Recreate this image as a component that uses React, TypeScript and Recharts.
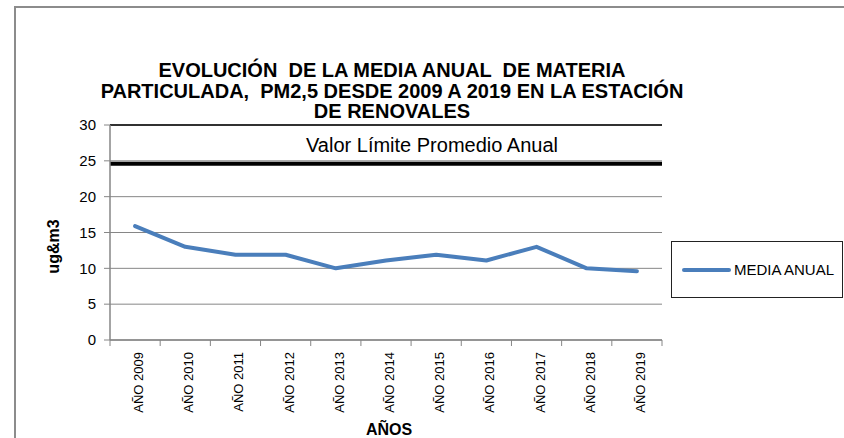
import React from 'react';
import { LineChart, Line, XAxis, YAxis, CartesianGrid, ReferenceLine, Legend } from 'recharts';

const years = ['AÑO 2009', 'AÑO 2010', 'AÑO 2011', 'AÑO 2012', 'AÑO 2013', 'AÑO 2014', 'AÑO 2015', 'AÑO 2016', 'AÑO 2017', 'AÑO 2018', 'AÑO 2019'];
const mediaAnual = [15.9, 13, 11.9, 11.9, 10, 11.1, 11.9, 11.1, 13, 10, 9.6];
const yTicks = [0, 5, 10, 15, 20, 25, 30];
const limitValue = 24.6;
const limitLabel = 'Valor Límite Promedio Anual';
const seriesName = 'MEDIA ANUAL';
const titleLines = [
  'EVOLUCIÓN  DE LA MEDIA ANUAL  DE MATERIA',
  'PARTICULADA,  PM2,5 DESDE 2009 A 2019 EN LA ESTACIÓN',
  'DE RENOVALES',
];
const xTitle = 'AÑOS';
const yTitle = 'ug&m3';

const data = years.map((y, i) => ({ year: y, media: mediaAnual[i] }));

const FONT = '"Liberation Sans", Arial, sans-serif';
const LINE_COLOR = '#4A7EBB';
const AXIS_COLOR = '#868686';

const XTick = (props: any) => {
  const { x, y, payload, index } = props;
  const half = payload && payload.offset ? payload.offset : 25;
  const isLast = payload.value === years[years.length - 1] || index === years.length - 1;
  return (
    <g>
      <line x1={x - half} x2={x - half} y1={y - 12} y2={y - 6} stroke={AXIS_COLOR} strokeWidth={1} />
      {isLast && <line x1={x + half} x2={x + half} y1={y - 12} y2={y - 6} stroke={AXIS_COLOR} strokeWidth={1} />}
      <text
        x={x}
        y={y}
        transform={`rotate(-90, ${x}, ${y})`}
        textAnchor="end"
        dy={8}
        fontSize={13}
        fontFamily={FONT}
        fill="#000"
      >
        {payload.value}
      </text>
    </g>
  );
};

const LegendBox = () => (
  <div
    style={{
      boxSizing: 'border-box',
      width: 172,
      height: 57,
      border: '1.5px solid #222',
      background: '#fff',
      display: 'flex',
      alignItems: 'center',
      paddingLeft: 10,
      fontFamily: FONT,
      fontSize: 15,
      color: '#000',
    }}
  >
    <svg width={50} height={8} style={{ display: 'block' }}>
      <line x1={2} x2={47} y1={4} y2={4} stroke={LINE_COLOR} strokeWidth={4} strokeLinecap="round" />
    </svg>
    <span style={{ marginLeft: 2 }}>{seriesName}</span>
  </div>
);

export default function App() {
  return (
    <div style={{ position: 'absolute', left: 0, top: 0, width: 844, height: 438, background: '#fff', overflow: 'hidden' }}>
      <div
        style={{
          position: 'absolute',
          left: 14,
          top: 6,
          width: 830,
          height: 432,
          borderTop: '2px solid #8c8c8c',
          borderLeft: '2px solid #8c8c8c',
          boxSizing: 'border-box',
        }}
      />
      <div
        style={{
          position: 'absolute',
          left: 0,
          top: 60,
          width: 784,
          textAlign: 'center',
          fontFamily: FONT,
          fontWeight: 'bold',
          fontSize: 20,
          lineHeight: '20.5px',
          color: '#000',
          whiteSpace: 'pre',
        }}
      >
        {titleLines.map((t, i) => (
          <div key={i}>{t}</div>
        ))}
      </div>
      <div style={{ position: 'absolute', left: 0, top: 0 }}>
        <LineChart width={844} height={438} data={data} margin={{ top: 125, right: 182, bottom: 0, left: 0 }}>
          <CartesianGrid vertical={false} stroke={AXIS_COLOR} strokeWidth={1} />
          <XAxis
            dataKey="year"
            type="category"
            scale="band"
            interval={0}
            height={98}
            tickLine={false}
            tickSize={5}
            tickMargin={7}
            axisLine={{ stroke: AXIS_COLOR, strokeWidth: 1.5 }}
            tick={<XTick />}
            label={{
              content: (p: any) => {
                const vb = p.viewBox || { x: 110, y: 340, width: 552, height: 98 };
                return (
                  <text
                    x={vb.x + vb.width / 2 + 3}
                    y={vb.y + vb.height - 3}
                    textAnchor="middle"
                    fontFamily={FONT}
                    fontWeight="bold"
                    fontSize={16}
                    fill="#000"
                  >
                    {xTitle}
                  </text>
                );
              },
            }}
          />
          <YAxis
            domain={[0, 30]}
            ticks={yTicks}
            width={110}
            tickSize={6}
            tickMargin={8}
            tickLine={{ stroke: AXIS_COLOR }}
            axisLine={{ stroke: AXIS_COLOR, strokeWidth: 1.5 }}
            tick={{ fontSize: 15, fill: '#000', fontFamily: FONT }}
            interval={0}
            label={{
              content: (p: any) => {
                const vb = p.viewBox || { x: 0, y: 125, width: 110, height: 215 };
                const cx = vb.x + vb.width / 2 - 2;
                const cy = vb.y + vb.height / 2 + 14;
                return (
                  <text
                    x={cx}
                    y={cy}
                    transform={`rotate(-90, ${cx}, ${cy})`}
                    textAnchor="middle"
                    dy="0.35em"
                    fontFamily={FONT}
                    fontWeight="bold"
                    fontSize={16}
                    fill="#000"
                  >
                    {yTitle}
                  </text>
                );
              },
            }}
          />
          <YAxis
            yAxisId="right"
            orientation="right"
            domain={[0, 30]}
            ticks={yTicks}
            width={0}
            tick={false}
            tickLine={false}
            axisLine={{ stroke: '#000', strokeWidth: 1.5 }}
          />
          <ReferenceLine y={30} stroke="#000" strokeWidth={1.5} />
          <ReferenceLine
            y={limitValue}
            stroke="#000"
            strokeWidth={4}
            label={{
              value: limitLabel,
              position: 'top',
              offset: 12,
              dx: 46,
              fontSize: 20,
              fill: '#000',
              fontFamily: FONT,
            }}
          />
          <Line
            type="linear"
            dataKey="media"
            name={seriesName}
            stroke={LINE_COLOR}
            strokeWidth={4}
            strokeLinejoin="round"
            strokeLinecap="round"
            dot={false}
            activeDot={false}
            isAnimationActive={false}
          />
          <Legend
            layout="vertical"
            align="center"
            verticalAlign="middle"
            wrapperStyle={{ left: 671, top: 241, width: 172, height: 57 }}
            content={() => <LegendBox />}
          />
        </LineChart>
      </div>
    </div>
  );
}
